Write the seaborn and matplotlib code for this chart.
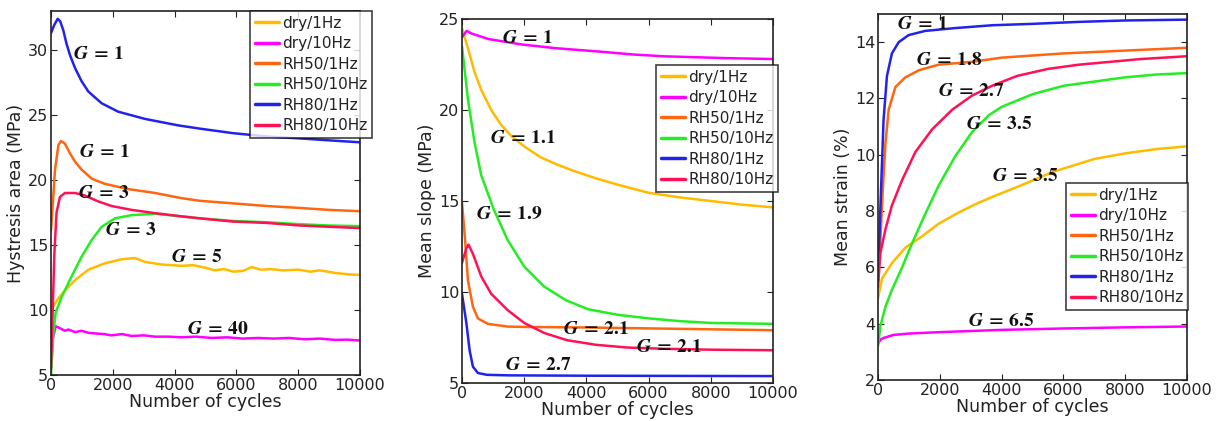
import numpy as np
import pandas as pd
import matplotlib
matplotlib.use("Agg")
import matplotlib.pyplot as plt
import seaborn as sns

# ---- series names and colours ----
series = ["dry/1Hz", "dry/10Hz", "RH50/1Hz", "RH50/10Hz", "RH80/1Hz", "RH80/10Hz"]
colors = ["#FFBB00", "#FF00FF", "#FF6611", "#22EE22", "#2222EE", "#FF1155"]

# ---- panel 1: hysteresis area (MPa) ----
hyst_x = {
    "dry/1Hz": [0, 240, 450, 780, 1210, 1750, 2290, 2720, 3040, 3580, 4230, 4600, 5000,
                5300, 5600, 5900, 6200, 6500, 6800, 7100, 7500, 8000, 8400, 8700, 9200, 9600, 10000],
    "dry/10Hz": [0, 60, 150, 290, 450, 560, 780, 990, 1200, 1420, 1700, 1960, 2300, 2610, 3000, 3370,
                 3800, 4230, 4700, 5200, 5700, 6200, 6700, 7200, 7700, 8200, 8700, 9200, 9600, 10000],
    "RH50/1Hz": [0, 60, 130, 240, 325, 450, 615, 780, 990, 1320, 1750, 2500, 3370, 4230, 4820,
                 5900, 6980, 8050, 9000, 10000],
    "RH50/10Hz": [0, 75, 150, 345, 670, 990, 1320, 1640, 2070, 2610, 3370, 4230, 4820, 5900,
                  6980, 8050, 9000, 10000],
    "RH80/1Hz": [0, 100, 215, 300, 400, 500, 615, 780, 990, 1210, 1640, 2180, 3040, 4120, 4820,
                 5900, 6980, 8050, 9000, 10000],
    "RH80/10Hz": [0, 30, 110, 180, 290, 450, 780, 1100, 1530, 1960, 2610, 3370, 4230, 4820, 5900,
                  6980, 8050, 9000, 10000],
}
hyst_y = {
    "dry/1Hz": [10.0, 10.9, 11.5, 12.3, 13.1, 13.6, 13.9, 14.0, 13.7, 13.5, 13.4, 13.45, 13.25,
                13.05, 13.15, 12.95, 13.0, 13.3, 13.1, 13.15, 13.05, 13.1, 12.95, 13.05, 12.85, 12.75, 12.7],
    "dry/10Hz": [5.5, 7.8, 8.75, 8.6, 8.4, 8.5, 8.3, 8.4, 8.25, 8.2, 8.15, 8.05, 8.15, 8.0, 8.05, 7.95,
                 7.95, 7.9, 7.95, 7.85, 7.9, 7.8, 7.85, 7.8, 7.85, 7.75, 7.8, 7.7, 7.72, 7.65],
    "RH50/1Hz": [16.15, 18.2, 20.8, 22.7, 23.0, 22.8, 22.05, 21.4, 20.8, 20.1, 19.7, 19.3, 19.0, 18.6,
                 18.4, 18.2, 18.0, 17.85, 17.7, 17.6],
    "RH50/10Hz": [5.0, 8.2, 9.8, 11.0, 12.6, 14.1, 15.4, 16.4, 17.05, 17.3, 17.4, 17.2, 17.05, 16.85,
                  16.75, 16.6, 16.5, 16.45],
    "RH80/1Hz": [31.3, 31.9, 32.4, 32.2, 31.5, 30.5, 29.6, 28.6, 27.6, 26.8, 25.9, 25.25, 24.7, 24.2,
                 23.95, 23.6, 23.35, 23.2, 23.05, 22.9],
    "RH80/10Hz": [5.5, 8.0, 14.4, 17.5, 18.7, 19.0, 19.0, 18.8, 18.35, 18.0, 17.7, 17.45, 17.2, 17.05,
                  16.8, 16.7, 16.5, 16.4, 16.3],
}

# ---- panel 2: mean slope (MPa) ----
slope_x = {
    "dry/1Hz": [0, 190, 400, 620, 940, 1250, 1570, 2000, 2530, 3060, 3600, 4300, 5000, 6000, 7000,
                8000, 9000, 10000],
    "dry/10Hz": [0, 150, 310, 850, 1920, 2990, 4490, 5500, 6500, 7500, 8500, 10000],
    "RH50/1Hz": [0, 100, 190, 350, 510, 830, 1470, 2000, 4000, 6000, 8000, 10000],
    "RH50/10Hz": [0, 190, 400, 620, 1030, 1470, 2000, 2640, 3340, 4060, 5000, 6000, 7000, 8000, 10000],
    "RH80/1Hz": [0, 140, 245, 350, 510, 800, 1500, 4000, 10000],
    "RH80/10Hz": [0, 140, 210, 350, 620, 940, 1470, 2000, 2640, 3380, 4300, 5300, 6500, 8000, 10000],
}
slope_y = {
    "dry/1Hz": [24.5, 23.4, 22.1, 21.1, 20.0, 19.2, 18.6, 18.0, 17.4, 17.0, 16.65, 16.25, 15.9, 15.45,
                15.2, 15.0, 14.8, 14.65],
    "dry/10Hz": [24.0, 24.35, 24.2, 23.9, 23.6, 23.4, 23.2, 23.05, 22.95, 22.9, 22.85, 22.8],
    "RH50/1Hz": [14.9, 12.85, 10.65, 9.2, 8.55, 8.25, 8.1, 8.08, 8.05, 8.0, 7.95, 7.9],
    "RH50/10Hz": [23.5, 20.6, 18.25, 16.4, 14.5, 12.85, 11.4, 10.3, 9.55, 9.05, 8.75, 8.55, 8.4, 8.3, 8.25],
    "RH80/1Hz": [9.9, 8.3, 6.8, 5.9, 5.55, 5.45, 5.42, 5.4, 5.38],
    "RH80/10Hz": [11.6, 12.4, 12.6, 12.1, 10.85, 9.9, 9.0, 8.3, 7.75, 7.35, 7.1, 6.95, 6.88, 6.83, 6.8],
}

# ---- panel 3: mean strain (%) ----
strain_x = {
    "dry/1Hz": [0, 130, 450, 885, 1420, 1960, 2610, 3260, 3690, 4600, 5680, 7000, 8000, 9000, 10000],
    "dry/10Hz": [0, 100, 200, 500, 1000, 2000, 4000, 6000, 8000, 10000],
    "RH50/1Hz": [0, 75, 150, 240, 345, 560, 885, 1320, 1960, 3040, 4000, 6000, 8000, 10000],
    "RH50/10Hz": [0, 75, 240, 450, 780, 1100, 1530, 1960, 2500, 3040, 3580, 4000, 5000, 6000, 7000,
                  8000, 9000, 10000],
    "RH80/1Hz": [0, 75, 180, 290, 450, 670, 990, 1530, 2500, 3690, 5000, 6500, 8000, 10000],
    "RH80/10Hz": [0, 75, 240, 450, 780, 1210, 1750, 2400, 3040, 3690, 4500, 5500, 6500, 7500, 8500,
                  10000],
}
strain_y = {
    "dry/1Hz": [4.9, 5.6, 6.15, 6.7, 7.1, 7.55, 7.95, 8.3, 8.5, 8.9, 9.4, 9.85, 10.05, 10.2, 10.3],
    "dry/10Hz": [3.3, 3.45, 3.5, 3.6, 3.65, 3.7, 3.78, 3.83, 3.87, 3.9],
    "RH50/1Hz": [6.15, 6.9, 8.65, 10.4, 11.6, 12.4, 12.75, 13.0, 13.2, 13.3, 13.45, 13.6, 13.7, 13.8],
    "RH50/10Hz": [3.2, 3.9, 4.6, 5.2, 6.0, 6.85, 7.9, 8.9, 9.95, 10.8, 11.4, 11.7, 12.15, 12.45, 12.6,
                  12.75, 12.85, 12.9],
    "RH80/1Hz": [5.5, 8.05, 11.25, 12.8, 13.6, 14.0, 14.25, 14.4, 14.5, 14.6, 14.65, 14.72, 14.77, 14.8],
    "RH80/10Hz": [5.3, 6.5, 7.35, 8.2, 9.1, 10.1, 10.9, 11.6, 12.1, 12.45, 12.8, 13.05, 13.2, 13.3,
                  13.4, 13.5],
}

# ---- G annotations: (x, y, value) ----
hyst_notes = [(720, 29.7, "1"), (900, 22.2, "1"), (880, 19.0, "3"), (1750, 16.2, "3"),
              (3870, 14.1, "5"), (4390, 8.6, "40")]
slope_notes = [(1280, 24.0, "1"), (910, 18.5, "1.1"), (460, 14.3, "1.9"), (3240, 8.0, "2.1"),
               (5610, 7.0, "2.1"), (1390, 6.0, "2.7")]
strain_notes = [(616, 14.65, "1"), (1220, 13.4, "1.8"), (1950, 12.3, "2.7"), (2860, 11.1, "3.5"),
                (3680, 9.25, "3.5"), (2920, 4.1, "6.5")]


def to_long(xs, ys):
    frames = []
    for name in series:
        frames.append(pd.DataFrame({"cycles": xs[name], "value": ys[name], "case": name}))
    return pd.concat(frames, ignore_index=True)


sns.set_style("ticks")
plt.rcParams["font.family"] = ["DejaVu Sans"]
plt.rcParams["mathtext.fontset"] = "stix"

fig = plt.figure(figsize=(12.18, 4.21), dpi=100)
W, H = 1218, 421
# axes boxes in pixels: left, top, right, bottom
boxes = [(51, 11, 360, 375), (462, 19, 773, 383), (878, 14, 1187, 380)]
panels = [
    (hyst_x, hyst_y, "Hystresis area (MPa)", (5, 33), [5, 10, 15, 20, 25, 30], hyst_notes, (250, 11)),
    (slope_x, slope_y, "Mean slope (MPa)", (5, 25), [5, 10, 15, 20, 25], slope_notes, (656, 65)),
    (strain_x, strain_y, "Mean strain (%)", (2, 15), [2, 4, 6, 8, 10, 12, 14], strain_notes, (1066, 183)),
]

pal = dict(zip(series, colors))
for (l, t, r, b), (xs, ys, ylab, ylim, yticks, notes, legpos) in zip(boxes, panels):
    ax = fig.add_axes([l / W, 1 - b / H, (r - l) / W, (b - t) / H])
    df = to_long(xs, ys)
    sns.lineplot(data=df, x="cycles", y="value", hue="case", hue_order=series, palette=pal,
                 linewidth=1.8, ax=ax)
    ax.set_xlim(0, 10000)
    ax.set_ylim(*ylim)
    ax.set_xticks([0, 2000, 4000, 6000, 8000, 10000])
    ax.set_yticks(yticks)
    ax.tick_params(direction="in", top=True, right=True, length=4, labelsize=11.5, colors="#222222",
                   pad=2)
    for sp in ax.spines.values():
        sp.set_linewidth(1.2)
        sp.set_color("#222222")
    ax.set_xlabel("Number of cycles", fontsize=12.5, labelpad=0, color="#222222")
    ax.set_ylabel(ylab, fontsize=12.5, labelpad=2, color="#222222")
    for x, y, g in notes:
        ax.text(x, y, r"$\boldsymbol{G\;=\;%s}$" % g, fontsize=14, ha="left", va="center",
                color="#111111")
    # legend placed by its upper-left corner in pixels
    lx, ly = legpos
    leg = ax.legend(loc="upper left", bbox_to_anchor=(lx / W, 1 - ly / H), bbox_transform=fig.transFigure,
                    frameon=True, fancybox=False, borderaxespad=0, fontsize=11, handlelength=1.6,
                    handletextpad=0.2, labelspacing=0.36, borderpad=0.3, title=None)
    leg.get_frame().set_edgecolor("#111111")
    leg.get_frame().set_linewidth(1.2)
    for txt in leg.get_texts():
        txt.set_color("#222222")
    for h in leg.get_lines():
        h.set_linewidth(2.5)

fig.savefig("out.png", dpi=100)
